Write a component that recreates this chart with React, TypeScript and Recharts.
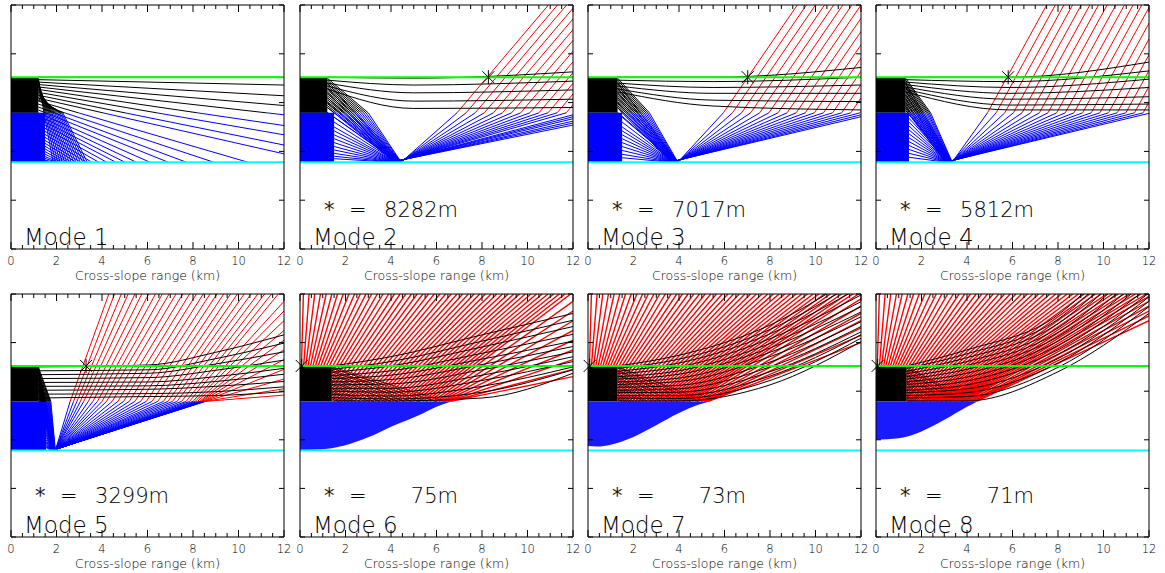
import React from 'react';
import { ComposedChart, Line, Area, XAxis, YAxis, ReferenceDot } from 'recharts';

type P = [number, number];
type Pt = { x: number; y: number | null };

const FONT = '"DejaVu Sans", "Liberation Sans", sans-serif';

// interfaces (depth units on an unlabeled 0..5 axis)
const GREEN_Y = 3.52;
const LAYER_Y = 2.79;
const CYAN_Y = 1.78;

const xTicks = [0, 0.5, 1, 1.5, 2, 2.5, 3, 3.5, 4, 4.5, 5, 5.5, 6, 6.5, 7, 7.5, 8, 8.5, 9, 9.5, 10, 10.5, 11, 11.5, 12];
const yTicks = [0, 1, 2, 3, 4, 5];

const modeNames = ['Mode 1', 'Mode 2', 'Mode 3', 'Mode 4', 'Mode 5', 'Mode 6', 'Mode 7', 'Mode 8'];
const starText = ['', '8282m', '7017m', '5812m', '3299m', '75m', '73m', '71m'];
const starRange = [NaN, 8.28, 7.02, 5.81, 3.3, 0.075, 0.073, 0.071];
const blackBlockEnd = [1.2, 1.2, 1.3, 1.3, 1.2, 1.4, 1.3, 1.35];
const blueBlockEnd = [1.5, 1.5, 1.5, 1.45, 1.55, 0, 0, 0];

// ---------- Mode 1 ----------
const mode1Start = [3.52, 3.47, 3.42, 3.37, 3.32, 3.27, 3.21, 3.15, 3.09, 3.03, 2.97, 2.91, 2.85, 2.79, 2.73, 2.67, 2.61, 2.55, 2.49, 2.43, 2.37, 2.31, 2.25, 2.19, 2.13, 2.07, 2.01, 1.95, 1.9, 1.85, 1.81];
const mode1End: P[] = [[12, 3.52], [12, 3.36], [12, 3.14], [12, 2.94], [12, 2.75], [12, 2.53], [12, 2.34], [12, 2.13], [12, 1.95], [10.4, 1.78], [8.9, 1.78], [7.7, 1.78], [6.9, 1.78], [6.1, 1.78], [5.5, 1.78], [5.0, 1.78], [4.6, 1.78], [4.2, 1.78], [3.85, 1.78], [3.55, 1.78], [3.3, 1.78], [3.05, 1.78], [2.85, 1.78], [2.65, 1.78], [2.5, 1.78], [2.35, 1.78], [2.22, 1.78], [2.1, 1.78], [2.0, 1.78], [1.9, 1.78], [1.82, 1.78]];

// ---------- descending rays [startDepth, x where they cross the layer, x where they reach the bottom] ----------
const mode1Descent = [
  [3.5, 1.45, 1.85], [3.47, 1.5, 1.95], [3.44, 1.55, 2.05], [3.41, 1.6, 2.15], [3.38, 1.65, 2.25], [3.35, 1.7, 2.35],
  [3.32, 1.75, 2.45], [3.29, 1.8, 2.55], [3.26, 1.86, 2.65], [3.23, 1.92, 2.75], [3.2, 1.98, 2.85], [3.17, 2.04, 2.95],
  [3.14, 2.1, 3.05], [3.11, 2.16, 3.15], [3.08, 2.22, 3.25], [3.05, 2.28, 3.35],
];
const mode2Descent = [
  [3.5, 3.0, 4.45], [3.46, 2.9, 4.43], [3.42, 2.8, 4.41], [3.38, 2.7, 4.39], [3.34, 2.6, 4.37], [3.3, 2.5, 4.35],
  [3.26, 2.4, 4.33], [3.22, 2.3, 4.31], [3.18, 2.2, 4.29], [3.14, 2.1, 4.27], [3.1, 2.0, 4.25], [3.06, 1.9, 4.23],
  [3.02, 1.8, 4.21], [2.98, 1.7, 4.19], [2.94, 1.6, 4.17], [2.9, 1.5, 4.15],
];
const mode3Descent = [
  [3.5, 2.7, 3.95], [3.46, 2.62, 3.93], [3.42, 2.54, 3.91], [3.38, 2.46, 3.89], [3.34, 2.38, 3.87], [3.3, 2.3, 3.85],
  [3.26, 2.22, 3.83], [3.22, 2.14, 3.81], [3.18, 2.06, 3.79], [3.14, 1.98, 3.77], [3.1, 1.9, 3.75], [3.06, 1.82, 3.73],
  [3.02, 1.74, 3.71], [2.98, 1.66, 3.69], [2.94, 1.58, 3.67], [2.9, 1.5, 3.65],
];
const mode4Descent = [
  [3.5, 2.4, 3.35], [3.46, 2.34, 3.33], [3.42, 2.28, 3.31], [3.38, 2.22, 3.29], [3.34, 2.15, 3.27], [3.3, 2.08, 3.25],
  [3.26, 2.01, 3.23], [3.22, 1.94, 3.21], [3.18, 1.87, 3.19], [3.14, 1.8, 3.17], [3.1, 1.73, 3.15], [3.06, 1.66, 3.13],
  [3.02, 1.59, 3.11], [2.98, 1.52, 3.09], [2.94, 1.46, 3.07], [2.9, 1.4, 3.05],
];
const mode5Descent = [
  [3.5, 1.75, 1.95], [3.45, 1.72, 1.94], [3.4, 1.69, 1.93], [3.35, 1.66, 1.92], [3.3, 1.63, 1.91], [3.25, 1.6, 1.9],
  [3.2, 1.57, 1.89], [3.15, 1.54, 1.88], [3.1, 1.51, 1.87], [3.05, 1.48, 1.86], [3.0, 1.45, 1.85], [2.95, 1.42, 1.84],
  [2.9, 1.39, 1.83], [2.85, 1.35, 1.82],
];

// ---------- Modes 2-4: upper (black) rays ----------
const mode2Upper: P[][] = [
  [[1.2, 3.52], [5, 3.5], [12, 3.63]], [[1.2, 3.46], [5, 3.36], [12, 3.44]], [[1.2, 3.4], [5, 3.2], [12, 3.26]],
  [[1.2, 3.34], [5, 3.03], [12, 3.07]], [[1.2, 3.28], [5, 2.88], [12, 2.9]],
];
const mode3Upper: P[][] = [
  [[1.3, 3.52], [5.5, 3.52], [12, 3.72]], [[1.3, 3.46], [5.5, 3.43], [12, 3.52]], [[1.3, 3.4], [5.5, 3.31], [12, 3.36]],
  [[1.3, 3.34], [5.5, 3.19], [12, 3.19]], [[1.3, 3.28], [5.5, 3.05], [12, 3.02]], [[1.3, 3.22], [5.5, 2.93], [12, 2.85]],
];
const mode4Upper: P[][] = [
  [[1.3, 3.52], [5.85, 3.52], [12, 3.83]], [[1.3, 3.47], [5.85, 3.43], [12, 3.65]], [[1.3, 3.42], [5.85, 3.31], [12, 3.48]],
  [[1.3, 3.37], [5.85, 3.19], [12, 3.31]], [[1.3, 3.32], [5.85, 3.07], [12, 3.12]], [[1.3, 3.27], [5.85, 2.95], [12, 2.97]],
  [[1.3, 3.22], [5.85, 2.85], [12, 2.85]],
];

// ---------- Modes 2-5: reflected rays [startDepth, bottomX, crossX|null, endX, endY] ----------
const mode2Lower: (number | null)[][] = [
  [3.4, 4.45, 6.9, 10.92, 5], [3.3, 4.42, 7.3, 11.32, 5], [3.2, 4.4, 7.7, 11.72, 5], [3.1, 4.37, 8.1, 12.12, 5],
  [3.0, 4.35, 8.5, 12.52, 5], [2.9, 4.32, 8.9, 12.92, 5], [2.8, 4.3, 9.3, 13.32, 5], [2.7, 4.27, 9.7, 13.72, 5],
  [2.6, 4.25, 10.1, 14.12, 5], [2.5, 4.22, 10.5, 14.52, 5], [2.42, 4.2, 10.9, 14.92, 5], [2.34, 4.17, 11.3, 15.32, 5],
  [2.26, 4.15, 11.7, 15.72, 5], [2.18, 4.12, null, 12, 2.75], [2.1, 4.1, null, 12, 2.71], [2.03, 4.07, null, 12, 2.67],
  [1.96, 4.05, null, 12, 2.62], [1.9, 4.02, null, 12, 2.58], [1.85, 4.0, null, 12, 2.54],
];
const mode3Lower: (number | null)[][] = [
  [3.4, 3.95, 5.95, 9.2, 5], [3.3, 3.93, 6.35, 9.6, 5], [3.2, 3.91, 6.75, 10.0, 5], [3.1, 3.89, 7.15, 10.4, 5],
  [3.0, 3.87, 7.55, 10.8, 5], [2.9, 3.85, 7.95, 11.2, 5], [2.8, 3.83, 8.35, 11.6, 5], [2.7, 3.81, 8.75, 12.0, 5],
  [2.6, 3.79, 9.15, 12.4, 5], [2.5, 3.77, 9.55, 12.8, 5], [2.42, 3.75, 9.95, 13.2, 5], [2.34, 3.73, 10.35, 13.6, 5],
  [2.26, 3.71, 10.75, 14.0, 5], [2.18, 3.69, 11.15, 14.4, 5], [2.1, 3.67, 11.55, 14.8, 5], [2.02, 3.65, 11.95, 15.2, 5],
  [1.94, 3.63, null, 12, 2.75], [1.87, 3.6, null, 12, 2.71],
];
const mode4Lower: (number | null)[][] = [
  [3.4, 3.35, 4.9, 7.5, 5], [3.32, 3.33, 5.28, 7.88, 5], [3.24, 3.32, 5.66, 8.26, 5], [3.16, 3.3, 6.04, 8.64, 5],
  [3.08, 3.29, 6.42, 9.02, 5], [3.0, 3.27, 6.8, 9.4, 5], [2.92, 3.26, 7.18, 9.78, 5], [2.84, 3.24, 7.56, 10.16, 5],
  [2.76, 3.23, 7.94, 10.54, 5], [2.68, 3.21, 8.32, 10.92, 5], [2.6, 3.2, 8.7, 11.3, 5], [2.52, 3.18, 9.08, 11.68, 5],
  [2.44, 3.17, 9.46, 12.06, 5], [2.36, 3.15, 9.84, 12.44, 5], [2.28, 3.14, 10.22, 12.82, 5], [2.2, 3.12, 10.6, 13.2, 5],
  [2.12, 3.11, 10.98, 13.58, 5], [2.04, 3.09, 11.36, 13.96, 5], [1.96, 3.08, 11.74, 14.34, 5], [1.88, 3.05, null, 12, 2.78],
];
const mode5Lower: (number | null)[][] = [
  [3.5, 1.95, 2.6, 4.3, 5], [3.45, 1.95, 2.75, 4.55, 5], [3.4, 1.94, 2.9, 4.85, 5], [3.35, 1.94, 3.05, 5.15, 5],
  [3.3, 1.93, 3.2, 5.45, 5], [3.25, 1.93, 3.4, 5.75, 5], [3.2, 1.92, 3.6, 6.05, 5], [3.15, 1.92, 3.8, 6.35, 5],
  [3.1, 1.91, 4.0, 6.65, 5], [3.05, 1.91, 4.2, 6.95, 5], [3.0, 1.9, 4.45, 7.25, 5], [2.95, 1.9, 4.7, 7.55, 5],
  [2.9, 1.89, 4.95, 7.85, 5], [2.85, 1.89, 5.2, 8.15, 5], [2.8, 1.88, 5.45, 8.45, 5], [2.75, 1.88, 5.7, 8.75, 5],
  [2.7, 1.87, 5.95, 9.05, 5], [2.65, 1.87, 6.2, 9.35, 5], [2.6, 1.86, 6.45, 9.65, 5], [2.55, 1.86, 6.7, 9.95, 5],
  [2.5, 1.85, 6.9, 10.25, 5], [2.45, 1.85, 7.1, 10.55, 5], [2.4, 1.84, 7.3, 10.85, 5], [2.35, 1.84, 7.5, 11.15, 5],
  [2.3, 1.83, 7.7, 11.45, 5], [2.25, 1.83, 7.85, 11.75, 5], [2.2, 1.82, 8.0, 12, 4.85], [2.15, 1.82, 8.1, 12, 4.65],
  [2.1, 1.81, 8.2, 12, 4.45], [2.05, 1.81, 8.3, 12, 4.25], [2.0, 1.8, 8.35, 12, 4.05], [1.96, 1.8, 8.4, 12, 3.85],
  [1.93, 1.79, 8.45, 12, 3.65], [1.9, 1.79, 8.48, 12, 3.45], [1.88, 1.78, 8.5, 12, 3.25], [1.86, 1.78, 8.52, 12, 3.05],
  [1.84, 1.78, 8.55, 12, 2.92],
];

// ---------- Mode 5 upper curves [y at x=1.2, 6.07, 9, 12] ----------
const mode5CurveX = [1.2, 6.07, 9, 12];
const mode5Curves = [
  [3.5, 3.54, 3.8, 4.16], [3.42, 3.44, 3.67, 3.99], [3.34, 3.37, 3.56, 3.81], [3.26, 3.28, 3.43, 3.64],
  [3.18, 3.19, 3.3, 3.47], [3.1, 3.11, 3.2, 3.35], [3.02, 3.04, 3.1, 3.2], [2.94, 2.95, 2.99, 3.09], [2.86, 2.89, 2.91, 2.99],
];

// ---------- Modes 6-8 ----------
const curveX68 = [0, 4, 8, 12]; // first entry replaced by the block edge
const mode6Curves = [
  [3.52, 3.71, 4.16, 4.6], [3.45, 3.61, 4.03, 4.46], [3.39, 3.52, 3.91, 4.33], [3.32, 3.42, 3.78, 4.17],
  [3.26, 3.33, 3.66, 4.03], [3.19, 3.24, 3.55, 3.92], [3.13, 3.15, 3.44, 3.81], [3.06, 3.06, 3.33, 3.71],
  [3.0, 2.98, 3.22, 3.61], [2.93, 2.9, 3.1, 3.5], [2.87, 2.84, 2.98, 3.44], [2.8, 2.8, 2.86, 3.37],
];
const mode7Curves = [
  [3.52, 3.74, 4.36, 5.45], [3.47, 3.66, 4.27, 5.3], [3.41, 3.58, 4.18, 5.15], [3.36, 3.5, 4.08, 4.98],
  [3.3, 3.42, 3.98, 4.84], [3.25, 3.35, 3.89, 4.74], [3.19, 3.27, 3.8, 4.63], [3.14, 3.2, 3.71, 4.53],
  [3.08, 3.12, 3.6, 4.43], [3.02, 3.05, 3.5, 4.33], [2.97, 2.98, 3.4, 4.22], [2.91, 2.91, 3.31, 4.16],
  [2.86, 2.85, 3.22, 4.09], [2.8, 2.8, 3.13, 4.02],
];
const mode8Curves = [
  [3.52, 3.85, 4.57, 6.6], [3.47, 3.77, 4.48, 6.4], [3.41, 3.69, 4.39, 6.2], [3.36, 3.61, 4.3, 6.0],
  [3.3, 3.53, 4.21, 5.8], [3.25, 3.45, 4.12, 5.6], [3.19, 3.37, 4.03, 5.45], [3.14, 3.29, 3.94, 5.3],
  [3.08, 3.21, 3.85, 5.15], [3.02, 3.13, 3.76, 5.02], [2.97, 3.05, 3.67, 4.94], [2.91, 2.97, 3.58, 4.85],
  [2.86, 2.89, 3.49, 4.74], [2.8, 2.8, 3.4, 4.6],
];

const mode6Envelope: P[] = [[0, 1.79], [0.8, 1.8], [2, 1.89], [3, 2.05], [4, 2.27], [5.25, 2.51], [6, 2.68], [6.65, 2.79]];
const mode7Envelope: P[] = [[0, 1.87], [0.4, 1.86], [1, 1.9], [2, 2.06], [3, 2.3], [4, 2.55], [4.85, 2.72], [5.36, 2.79]];
const mode8Envelope: P[] = [[0, 2.0], [1, 2.03], [2, 2.17], [3, 2.41], [4, 2.68], [4.45, 2.79]];

const hatchStart68 = [3.5, 3.47, 3.43, 3.4, 3.36, 3.33, 3.29, 3.26, 3.22, 3.19, 3.15, 3.12, 3.08, 3.05, 3.01, 2.98, 2.94, 2.91, 2.87, 2.84];
const mode6HatchEnd = [6.4, 6.0, 5.6, 5.25, 4.9, 4.6, 4.3, 4.0, 3.75, 3.5, 3.25, 3.05, 2.85, 2.65, 2.45, 2.3, 2.15, 2.0, 1.85, 1.7];
const mode7HatchEnd = [5.2, 4.85, 4.5, 4.25, 3.95, 3.7, 3.45, 3.2, 3.0, 2.8, 2.6, 2.45, 2.3, 2.15, 2.0, 1.9, 1.8, 1.7, 1.6, 1.5];
const mode8HatchEnd = [4.3, 4.05, 3.8, 3.55, 3.3, 3.1, 2.9, 2.7, 2.55, 2.4, 2.25, 2.1, 2.0, 1.9, 1.8, 1.72, 1.64, 1.56, 1.48, 1.42];

const redTopX68 = [0.15, 0.4, 0.65, 0.9, 1.15, 1.4, 1.65, 1.9, 2.15, 2.4, 2.65, 2.9, 3.15, 3.4, 3.65, 3.9, 4.15, 4.4, 4.65, 4.9, 5.15, 5.4, 5.65, 5.9, 6.15, 6.4, 6.65, 6.9, 7.15, 7.4, 7.65, 7.9, 8.15, 8.4, 8.65, 8.9, 9.15, 9.4, 9.65, 9.9, 10.15, 10.4, 10.65, 10.9, 11.15, 11.4, 11.65, 11.9];
const mode6RedFrom = [0.02, 0.04, 0.06, 0.09, 0.12, 0.16, 0.2, 0.25, 0.3, 0.36, 0.43, 0.5, 0.6, 0.7, 0.8, 0.92, 1.05, 1.2, 1.35, 1.5, 1.65, 1.8, 1.95, 2.1, 2.25, 2.4, 2.55, 2.7, 2.85, 3.0, 3.15, 3.3, 3.45, 3.6, 3.75, 3.9, 4.05, 4.2, 4.35, 4.5, 4.65, 4.8, 4.95, 5.1, 5.25, 5.4, 5.55, 5.7];
const mode7RedFrom = [0.02, 0.03, 0.05, 0.07, 0.1, 0.13, 0.16, 0.2, 0.24, 0.29, 0.35, 0.4, 0.48, 0.56, 0.64, 0.74, 0.85, 0.97, 1.09, 1.21, 1.33, 1.45, 1.57, 1.69, 1.81, 1.93, 2.06, 2.18, 2.3, 2.42, 2.54, 2.66, 2.78, 2.9, 3.02, 3.14, 3.26, 3.39, 3.51, 3.63, 3.75, 3.87, 3.99, 4.11, 4.23, 4.35, 4.47, 4.59];
const mode8RedFrom = [0.01, 0.03, 0.04, 0.06, 0.08, 0.11, 0.13, 0.17, 0.2, 0.24, 0.29, 0.34, 0.4, 0.47, 0.54, 0.62, 0.7, 0.8, 0.9, 1.0, 1.1, 1.21, 1.31, 1.41, 1.51, 1.61, 1.71, 1.81, 1.91, 2.01, 2.11, 2.21, 2.31, 2.41, 2.51, 2.61, 2.71, 2.81, 2.92, 3.02, 3.12, 3.22, 3.32, 3.42, 3.52, 3.62, 3.72, 3.82];
const mode6RedEdge: P[] = [[5.85, 4.85], [5.98, 4.65], [6.1, 4.45], [6.22, 4.25], [6.33, 4.05], [6.43, 3.85], [6.52, 3.65], [6.58, 3.45], [6.63, 3.3]];
const mode7RedEdge: P[] = [[4.72, 4.9], [4.85, 4.75], [4.97, 4.6], [5.08, 4.45], [5.17, 4.3], [5.24, 4.15], [5.3, 4.0]];
const mode8RedEdge: P[] = [[3.92, 4.95], [4.05, 4.85], [4.17, 4.75], [4.27, 4.65], [4.35, 4.55], [4.42, 4.45]];

// ---------- layout ----------
const panelLeft = [11, 300, 588, 876, 11, 300, 588, 876];
const panelTop = [5, 5, 5, 5, 294, 294, 294, 294];
const panelHeight = [244, 244, 244, 244, 243, 243, 243, 243];
const PW = 273;

// ---------- geometry helpers ----------
interface Built { black: Pt[]; blue: Pt[]; red: Pt[]; curves: Pt[]; blocks: { data: any[]; fill: string; type: 'linear' | 'monotone' }[]; }

function addSeg(out: Pt[], a: P, b: P) {
  out.push({ x: a[0], y: a[1] }, { x: b[0], y: b[1] }, { x: b[0], y: null });
}

function addRay(bd: Built, pts: P[], turn: number) {
  for (let i = 0; i < pts.length - 1; i++) {
    const p = pts[i];
    const q = pts[i + 1];
    const upper = i >= turn ? bd.red : bd.black;
    const pa = p[1] >= LAYER_Y - 1e-9;
    const qa = q[1] >= LAYER_Y - 1e-9;
    if (pa === qa) {
      addSeg(pa ? upper : bd.blue, p, q);
    } else {
      const t = (LAYER_Y - p[1]) / (q[1] - p[1]);
      const m: P = [p[0] + t * (q[0] - p[0]), LAYER_Y];
      addSeg(pa ? upper : bd.blue, p, m);
      addSeg(qa ? upper : bd.blue, m, q);
    }
  }
}

function addCurve(bd: Built, pts: P[]) {
  pts.forEach((p) => bd.curves.push({ x: p[0], y: p[1] }));
  bd.curves.push({ x: pts[pts.length - 1][0], y: null });
}

function addRed68(bd: Built, from: P, to: P, blockEnd: number) {
  let start = from;
  if (from[0] < blockEnd) {
    const tG = (GREEN_Y - from[1]) / (to[1] - from[1]);
    const tX = (blockEnd - from[0]) / (to[0] - from[0]);
    const t = Math.min(tG, tX);
    start = [from[0] + t * (to[0] - from[0]), from[1] + t * (to[1] - from[1])];
  }
  addSeg(bd.red, start, to);
}

function buildPanel(i: number): Built {
  const bd: Built = { black: [], blue: [], red: [], curves: [], blocks: [] };
  const bEnd = blackBlockEnd[i];
  const uEnd = blueBlockEnd[i];
  bd.blocks.push({ data: [{ x: 0, r: [LAYER_Y, GREEN_Y] }, { x: bEnd, r: [LAYER_Y, GREEN_Y] }], fill: '#000000', type: 'linear' });
  if (i <= 4) {
    bd.blocks.push({ data: [{ x: 0, r: [CYAN_Y, LAYER_Y] }, { x: uEnd, r: [CYAN_Y, LAYER_Y] }], fill: '#0000ff', type: 'linear' });
    const descent = [mode1Descent, mode2Descent, mode3Descent, mode4Descent, mode5Descent][i];
    descent.forEach((r) => addRay(bd, [[bEnd, r[0]], [r[1], LAYER_Y], [r[2], CYAN_Y]], 99));
  }
  if (i === 0) {
    mode1Start.forEach((d, k) => addRay(bd, [[bEnd, d], mode1End[k]], 99));
  } else if (i <= 4) {
    const lower = [null, mode2Lower, mode3Lower, mode4Lower, mode5Lower][i] as (number | null)[][];
    lower.forEach((r) => {
      const d = r[0] as number;
      const x0 = d > LAYER_Y ? bEnd : uEnd;
      const pts: P[] = [[x0, d], [r[1] as number, CYAN_Y]];
      if (r[2] !== null) pts.push([r[2] as number, LAYER_Y]);
      pts.push([r[3] as number, r[4] as number]);
      addRay(bd, pts, 1);
    });
    if (i <= 3) {
      const upper = [null, mode2Upper, mode3Upper, mode4Upper][i] as P[][];
      upper.forEach((c) => addCurve(bd, c));
    } else {
      mode5Curves.forEach((c) => addCurve(bd, c.map((y, k) => [k === 0 ? bEnd : mode5CurveX[k], y] as P)));
    }
  } else {
    const env = [mode6Envelope, mode7Envelope, mode8Envelope][i - 5];
    bd.blocks.push({ data: env.map((p) => ({ x: p[0], r: [p[1], LAYER_Y] })), fill: '#1a1aff', type: 'monotone' });
    const hatchEnd = [mode6HatchEnd, mode7HatchEnd, mode8HatchEnd][i - 5];
    hatchStart68.forEach((d, k) => addSeg(bd.black, [bEnd, d], [hatchEnd[k], LAYER_Y]));
    const from = [mode6RedFrom, mode7RedFrom, mode8RedFrom][i - 5];
    from.forEach((cx, k) => addRed68(bd, [cx, LAYER_Y], [redTopX68[k], 5], bEnd));
    const edge = [mode6RedEdge, mode7RedEdge, mode8RedEdge][i - 5];
    edge.forEach((e) => addRed68(bd, [e[0], LAYER_Y], [12, e[1]], bEnd));
    const curves = [mode6Curves, mode7Curves, mode8Curves][i - 5];
    curves.forEach((c) => addCurve(bd, c.map((y, k) => [k === 0 ? bEnd : curveX68[k], y] as P)));
  }
  return bd;
}

const built = modeNames.map((_, i) => buildPanel(i));

// ---------- tick renderers ----------
const isMajor = (v: number) => Math.abs(v / 2 - Math.round(v / 2)) < 1e-6;

const BottomTick = (props: any) => {
  const { x, y, payload } = props;
  const v = payload.value as number;
  const major = isMajor(v);
  return (
    <g>
      <line x1={x} x2={x} y1={y} y2={y - (major ? 7 : 4)} stroke="#000" strokeWidth={1} />
      {major ? (
        <text x={x} y={y + 16} textAnchor="middle" fontSize={11.5} fontFamily={FONT} fontWeight={300} fill="#000">{v}</text>
      ) : null}
    </g>
  );
};
const TopTick = (props: any) => {
  const { x, y, payload } = props;
  const major = isMajor(payload.value as number);
  return <line x1={x} x2={x} y1={y} y2={y + (major ? 7 : 4)} stroke="#000" strokeWidth={1} />;
};
const LeftTick = (props: any) => {
  const { x, y } = props;
  return <line x1={x} x2={x + 5} y1={y} y2={y} stroke="#000" strokeWidth={1} />;
};
const RightTick = (props: any) => {
  const { x, y } = props;
  return <line x1={x} x2={x - 5} y1={y} y2={y} stroke="#000" strokeWidth={1} />;
};

const StarShape = (props: any) => {
  const { cx, cy } = props;
  const a = 6;
  return (
    <g stroke="#000" strokeWidth={1}>
      <line x1={cx - a} y1={cy - a} x2={cx + a} y2={cy + a} />
      <line x1={cx - a} y1={cy + a} x2={cx + a} y2={cy - a} />
      <line x1={cx} y1={cy - a - 1} x2={cx} y2={cy + a + 1} />
    </g>
  );
};

function Panel({ i }: { i: number }) {
  const bd = built[i];
  const L = panelLeft[i];
  const T = panelTop[i];
  const H = panelHeight[i];
  const margin = { top: 9, right: 19, bottom: 39, left: 19 };
  const hLine = (y: number) => [{ x: 0, y }, { x: 12, y }];
  return (
    <div style={{ position: 'absolute', left: L - 20, top: T - 10 }}>
      <ComposedChart width={PW + 40} height={H + 50} margin={margin}>
        <XAxis xAxisId="b" type="number" dataKey="x" domain={[0, 12]} ticks={xTicks} interval={0} allowDataOverflow
          tick={BottomTick} tickLine={false} tickSize={0} tickMargin={0} height={1} axisLine={{ stroke: '#000' }} />
        <XAxis xAxisId="t" orientation="top" type="number" dataKey="x" domain={[0, 12]} ticks={xTicks} interval={0} allowDataOverflow
          tick={TopTick} tickLine={false} tickSize={0} tickMargin={0} height={1} axisLine={{ stroke: '#000' }} />
        <YAxis yAxisId="l" type="number" domain={[0, 5]} ticks={yTicks} interval={0} allowDataOverflow
          tick={LeftTick} tickLine={false} tickSize={0} tickMargin={0} width={1} axisLine={{ stroke: '#000' }} />
        <YAxis yAxisId="r" orientation="right" type="number" domain={[0, 5]} ticks={yTicks} interval={0} allowDataOverflow
          tick={RightTick} tickLine={false} tickSize={0} tickMargin={0} width={1} axisLine={{ stroke: '#000' }} />
        {bd.blocks.map((b, k) => (
          <Area key={'a' + k} xAxisId="b" yAxisId="l" data={b.data} dataKey="r" type={b.type} stroke="none"
            fill={b.fill} fillOpacity={1} isAnimationActive={false} dot={false} activeDot={false} />
        ))}
        <Line xAxisId="b" yAxisId="l" data={bd.blue} dataKey="y" type="linear" stroke="#0000ff" strokeWidth={1}
          dot={false} activeDot={false} isAnimationActive={false} connectNulls={false} />
        <Line xAxisId="b" yAxisId="l" data={bd.black} dataKey="y" type="linear" stroke="#000000" strokeWidth={1}
          dot={false} activeDot={false} isAnimationActive={false} connectNulls={false} />
        <Line xAxisId="b" yAxisId="l" data={bd.red} dataKey="y" type="linear" stroke="#ff0000" strokeWidth={i >= 5 ? 1.4 : 1}
          dot={false} activeDot={false} isAnimationActive={false} connectNulls={false} />
        <Line xAxisId="b" yAxisId="l" data={bd.curves} dataKey="y" type="monotone" stroke="#000000" strokeWidth={1}
          dot={false} activeDot={false} isAnimationActive={false} connectNulls={false} />
        <Line xAxisId="b" yAxisId="l" data={hLine(GREEN_Y)} dataKey="y" type="linear" stroke="#00ff00" strokeWidth={2}
          dot={false} activeDot={false} isAnimationActive={false} />
        <Line xAxisId="b" yAxisId="l" data={hLine(CYAN_Y)} dataKey="y" type="linear" stroke="#00ffff" strokeWidth={2}
          dot={false} activeDot={false} isAnimationActive={false} />
        {i > 0 ? (
          <ReferenceDot xAxisId="b" yAxisId="l" x={starRange[i]} y={GREEN_Y} r={6} ifOverflow="hidden" shape={StarShape} />
        ) : null}
      </ComposedChart>
    </div>
  );
}

export default function App() {
  return (
    <div style={{ position: 'absolute', left: 0, top: 0, width: 1165, height: 573, background: '#fff', overflow: 'hidden' }}>
      {modeNames.map((_, i) => <Panel key={i} i={i} />)}
      <svg width={1165} height={573} style={{ position: 'absolute', left: 0, top: 0, pointerEvents: 'none' }}>
        {modeNames.map((name, i) => {
          const L = panelLeft[i];
          const bottom = panelTop[i] + panelHeight[i];
          const starBase = bottom - (i < 4 ? 32 : 34);
          return (
            <g key={i} fontFamily={FONT} fill="#000" fontWeight={300}>
              <text x={L + PW / 2} y={bottom + 31} textAnchor="middle" fontSize={12.5}>Cross-slope range (km)</text>
              <text x={L + 13} y={bottom - 4} fontSize={23}>{name}</text>
              {i > 0 ? (
                <>
                  <text x={L + 24} y={starBase} fontSize={21} fontWeight={400} fill="#222">*</text>
                  <text x={L + 49} y={starBase} fontSize={21}>=</text>
                  <text x={L + 158} y={starBase} fontSize={21} textAnchor="end">{starText[i]}</text>
                </>
              ) : null}
            </g>
          );
        })}
      </svg>
    </div>
  );
}
